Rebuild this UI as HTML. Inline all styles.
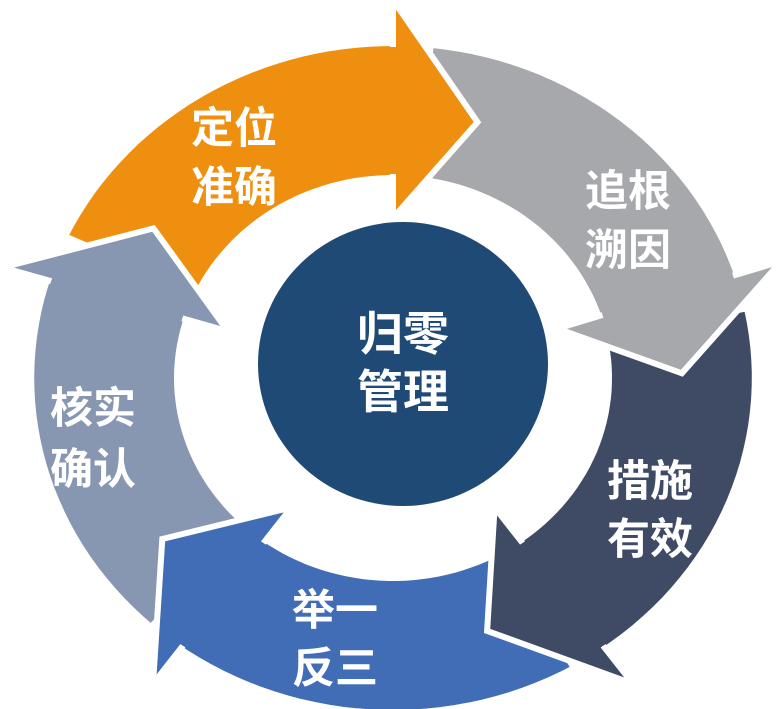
<!DOCTYPE html>
<html><head><meta charset="utf-8"><style>
html,body{margin:0;padding:0;background:#fff;width:777px;height:709px;overflow:hidden}
svg text{font-family:"Liberation Sans","Noto Sans CJK SC",sans-serif;font-weight:bold;fill:#fff;text-anchor:middle}
</style></head><body>
<svg id="s" width="777" height="709" viewBox="0 0 777 709" xmlns="http://www.w3.org/2000/svg">
<g id="bodies"></g>
<g id="heads"></g>
<ellipse cx="403" cy="364" rx="145" ry="142" fill="#1f4a75"/>
<g font-size="46">
<text x="403" y="350">归零</text>
<text x="403" y="408">管理</text>
</g>
<g font-size="43">
<text x="234" y="143">定位</text>
<text x="234" y="202">准确</text>
<text x="628" y="206">追根</text>
<text x="628" y="265">溯因</text>
<text x="650" y="496">措施</text>
<text x="650" y="554">有效</text>
<text x="335" y="625">举一</text>
<text x="335" y="683">反三</text>
<text x="93" y="423">核实</text>
<text x="93" y="484">确认</text>
</g>
</svg>
<script>
(function(){
var cx=393,cy=378,sx=1.08,ri=200,ro=335,hri=160,hro=378,H=17;
function P(a,r){var t=a*Math.PI/180;return (cx+Math.cos(t)*r*sx).toFixed(1)+","+(cy+Math.sin(t)*r).toFixed(1);}
function arc(a1,a2,r){var d="";var n=30;for(var i=1;i<=n;i++){var a=a1+(a2-a1)*i/n;d+=" L"+P(a,r);}return d;}
var segs=[
 {s:205,e:287,c:"#ef8f10"},
 {s:-84,e:-1,c:"#a6a8ab"},
 {s:-12,e:71,c:"#3f4b64"},
 {s:60,e:143,c:"#416db6"},
 {s:132,e:214,c:"#8797b2"}
];
var gb=document.getElementById("bodies"),gh=document.getElementById("heads");
function mk(g,d,c){var p=document.createElementNS("http://www.w3.org/2000/svg","path");
 p.setAttribute("d",d);p.setAttribute("fill",c);p.setAttribute("stroke","#fff");p.setAttribute("stroke-width","6");p.setAttribute("stroke-linejoin","miter");g.appendChild(p);}
segs.forEach(function(o){
 var b=o.e-H;
 mk(gb,"M"+P(o.s,ri)+arc(o.s,b+1,ri)+" L"+P(b+1,ro)+arc(b+1,o.s,ro)+" Z",o.c);
 mk(gh,"M"+P(b,ri+3)+" L"+P(b,hri)+" L"+P(o.e,(ri+ro)/2)+" L"+P(b,hro)+" L"+P(b,ro-3)+" Z",o.c);
});
// cover seams between body and head
segs.forEach(function(o){
 var b=o.e-H;
 var p=document.createElementNS("http://www.w3.org/2000/svg","path");
 p.setAttribute("d","M"+P(b-2,ri+4)+arc(b-2,b+3,ri+4)+" L"+P(b+3,ro-4)+arc(b+3,b-2,ro-4)+" Z");
 p.setAttribute("fill",o.c);gh.appendChild(p);
});
})();
</script>
</body></html>
